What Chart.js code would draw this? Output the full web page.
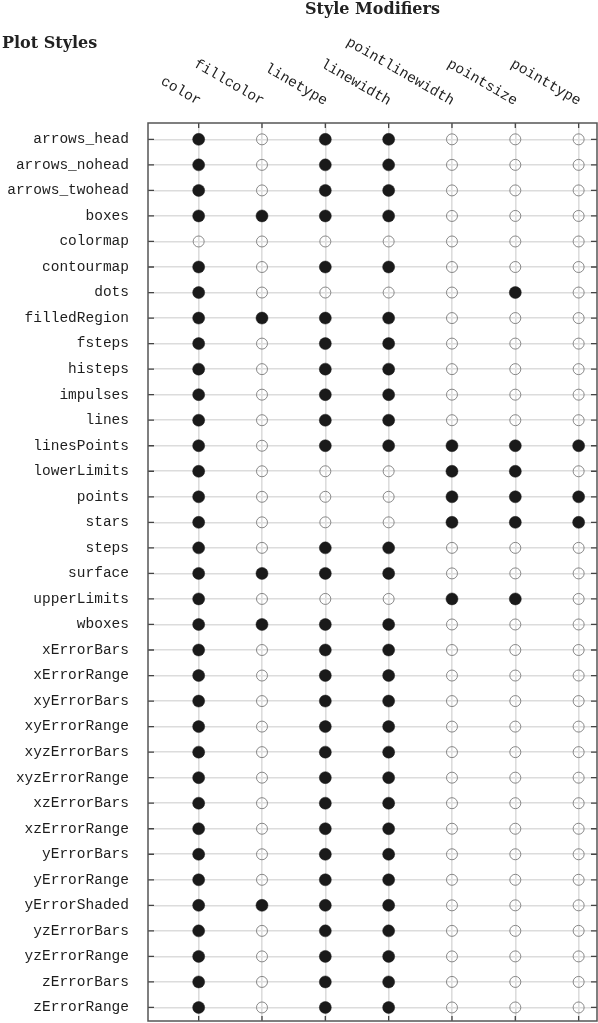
<!DOCTYPE html>
<html><head><meta charset="utf-8">
<script src="https://cdn.jsdelivr.net/npm/chart.js@4/dist/chart.umd.min.js"></script>
<style>html,body{margin:0;padding:0;background:#fff;overflow:hidden}canvas{display:block}</style>
</head><body><canvas id="c" width="598" height="1023" style="width:598px;height:1023px"></canvas>
<script>
const chartTitle = 'Style Modifiers';
const rowTitle = 'Plot Styles';
const modifiers = ['color','fillcolor','linetype','linewidth','pointlinewidth','pointsize','pointtype'];
const plotStyles = ['arrows_head','arrows_nohead','arrows_twohead','boxes','colormap','contourmap','dots','filledRegion','fsteps','histeps','impulses','lines','linesPoints','lowerLimits','points','stars','steps','surface','upperLimits','wboxes','xErrorBars','xErrorRange','xyErrorBars','xyErrorRange','xyzErrorBars','xyzErrorRange','xzErrorBars','xzErrorRange','yErrorBars','yErrorRange','yErrorShaded','yzErrorBars','yzErrorRange','zErrorBars','zErrorRange'];
// 1 = supported (filled dot), 0 = not supported (open circle); one entry per plot style
const colorSupport          = [1,1,1,1,0,1,1,1,1,1, 1,1,1,1,1,1,1,1,1,1, 1,1,1,1,1,1,1,1,1,1, 1,1,1,1,1];
const fillcolorSupport      = [0,0,0,1,0,0,0,1,0,0, 0,0,0,0,0,0,0,1,0,1, 0,0,0,0,0,0,0,0,0,0, 1,0,0,0,0];
const linetypeSupport       = [1,1,1,1,0,1,0,1,1,1, 1,1,1,0,0,0,1,1,0,1, 1,1,1,1,1,1,1,1,1,1, 1,1,1,1,1];
const linewidthSupport      = [1,1,1,1,0,1,0,1,1,1, 1,1,1,0,0,0,1,1,0,1, 1,1,1,1,1,1,1,1,1,1, 1,1,1,1,1];
const pointlinewidthSupport = [0,0,0,0,0,0,0,0,0,0, 0,0,1,1,1,1,0,0,1,0, 0,0,0,0,0,0,0,0,0,0, 0,0,0,0,0];
const pointsizeSupport      = [0,0,0,0,0,0,1,0,0,0, 0,0,1,1,1,1,0,0,1,0, 0,0,0,0,0,0,0,0,0,0, 0,0,0,0,0];
const pointtypeSupport      = [0,0,0,0,0,0,0,0,0,0, 0,0,1,0,1,1,0,0,0,0, 0,0,0,0,0,0,0,0,0,0, 0,0,0,0,0];

const supportColumns = [colorSupport, fillcolorSupport, linetypeSupport, linewidthSupport, pointlinewidthSupport, pointsizeSupport, pointtypeSupport];

const filled = [], empty = [];
supportColumns.forEach((col, ci) => {
  col.forEach((v, ri) => {
    (v ? filled : empty).push({x: ci + 1, y: ri + 1});
  });
});

const monoFont = '"Liberation Mono", "DejaVu Sans Mono", monospace';
const serifFont = '"DejaVu Serif", "Liberation Serif", serif';

const zeroPad = s => { s.paddingTop = 0; s.paddingBottom = 0; s.paddingLeft = 0; s.paddingRight = 0; };

const decorations = {
  id: 'decorations',
  beforeDatasetsDraw(chart) {
    const {ctx, chartArea: a, scales: {x, y}} = chart;
    ctx.save();
    ctx.strokeStyle = '#444';
    ctx.lineWidth = 1.3;
    ctx.beginPath();
    modifiers.forEach((m, i) => {
      const px = x.getPixelForValue(i + 1);
      ctx.moveTo(px, a.top); ctx.lineTo(px, a.top + 5);
      ctx.moveTo(px, a.bottom); ctx.lineTo(px, a.bottom - 5);
    });
    plotStyles.forEach((s, i) => {
      const py = y.getPixelForValue(i + 1);
      ctx.moveTo(a.left, py); ctx.lineTo(a.left + 6, py);
      ctx.moveTo(a.right, py); ctx.lineTo(a.right - 6, py);
    });
    ctx.stroke();
    ctx.lineWidth = 1.5;
    ctx.strokeStyle = '#555';
    ctx.strokeRect(a.left, a.top, a.right - a.left, a.bottom - a.top);
    ctx.restore();
  },
  afterDraw(chart) {
    const {ctx, chartArea: a, scales: {x}} = chart;
    ctx.save();
    ctx.fillStyle = '#222';
    ctx.font = '14.5px ' + monoFont;
    ctx.textAlign = 'right';
    ctx.textBaseline = 'middle';
    modifiers.forEach((m, i) => {
      const px = x.getPixelForValue(i + 1);
      ctx.save();
      ctx.translate(px + 1, a.top - 21);
      ctx.rotate(Math.PI / 6);
      ctx.fillText(m, 0, 0);
      ctx.restore();
    });
    ctx.font = 'bold 16px ' + serifFont;
    ctx.textBaseline = 'alphabetic';
    ctx.textAlign = 'center';
    ctx.fillText(chartTitle, (a.left + a.right) / 2, 14);
    ctx.textAlign = 'left';
    ctx.fillText(rowTitle, 2, 48);
    ctx.restore();
  }
};

new Chart(document.getElementById('c'), {
  type: 'scatter',
  data: {
    datasets: [
      {label: 'supported', data: filled, pointRadius: 6, pointHoverRadius: 6,
       backgroundColor: '#1a1a1a', borderColor: '#1a1a1a', borderWidth: 0.5},
      {label: 'not supported', data: empty, pointRadius: 5.5, pointHoverRadius: 5.5,
       backgroundColor: 'rgba(0,0,0,0)', borderColor: '#7c7c7c', borderWidth: 0.9}
    ]
  },
  options: {
    responsive: false, maintainAspectRatio: false, animation: false,
    devicePixelRatio: 1,
    events: [],
    layout: {autoPadding: false, padding: {top: 123, right: 1, bottom: 2, left: 0}},
    plugins: {legend: {display: false}, tooltip: {enabled: false}, title: {display: false}},
    scales: {
      x: {
        type: 'linear', position: 'top', min: 0.2, max: 7.29,
        afterBuildTicks: s => { s.ticks = modifiers.map((m, i) => ({value: i + 1})); },
        afterFit: s => { s.height = 0; zeroPad(s); },
        ticks: {display: false},
        grid: {color: '#dcdcdc', lineWidth: 1.6, drawTicks: false},
        border: {display: false}
      },
      y: {
        type: 'linear', reverse: true, min: 0.36, max: 35.53,
        afterBuildTicks: s => { s.ticks = plotStyles.map((p, i) => ({value: i + 1})); },
        afterFit: s => { s.width = 148; zeroPad(s); },
        ticks: {
          callback: v => plotStyles[Math.round(v) - 1],
          font: {family: monoFont, size: 14.5}, color: '#1e1e1e', padding: 19, autoSkip: false
        },
        grid: {color: '#dcdcdc', lineWidth: 1.6, drawTicks: false},
        border: {display: false}
      }
    }
  },
  plugins: [decorations]
});
</script>
</body></html>
